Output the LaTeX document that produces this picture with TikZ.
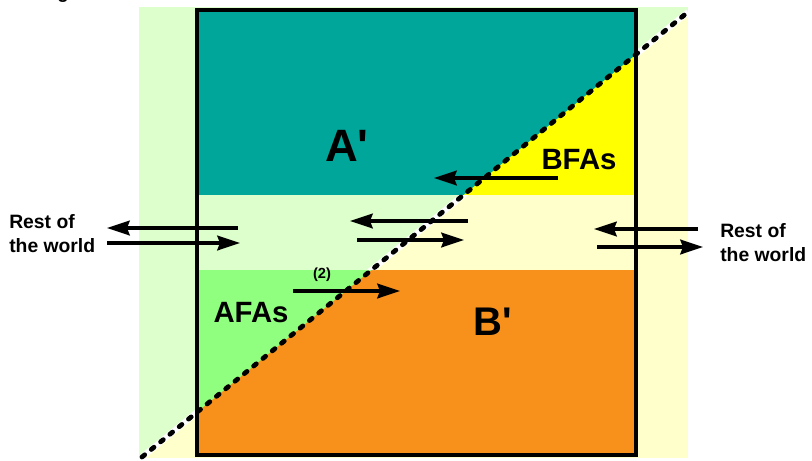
\documentclass[tikz,border=0pt]{standalone}
\usepackage{fontspec}
\setmainfont{Liberation Sans}
\usetikzlibrary{arrows.meta}
\definecolor{tealA}{RGB}{0,166,153}
\definecolor{orangeB}{RGB}{248,145,28}
\definecolor{yellowB}{RGB}{255,255,0}
\definecolor{greenA}{RGB}{144,255,128}
\definecolor{paleGreen}{RGB}{221,255,204}
\definecolor{paleYellow}{RGB}{255,255,204}

\tikzset{
  flow/.style={line width=2.6pt, -{Stealth[length=17pt,width=11pt,inset=2pt]}},
  bigname/.style={inner sep=0pt, font=\bfseries\fontsize{34}{34}\selectfont},
  faname/.style={inner sep=0pt, font=\bfseries\fontsize{22}{22}\selectfont},
  world/.style={inner sep=0pt, align=left, font=\bfseries\fontsize{14.5}{18}\selectfont},
  upperleft/.style={insert path={(100,491.2) -- (750,-38.5) -- (100,-38.5) -- cycle}},
}

\begin{document}
\begin{tikzpicture}[x=0.75pt, y=-0.75pt]
        \useasboundingbox (0,0) rectangle (812,460);
        \coordinate (diagA) at (142,457);
        \coordinate (diagB) at (688,12);

        % Outer bands
        \fill[paleYellow] (139,7) rectangle (688,458);
        \begin{scope}
          \clip[upperleft];
          \fill[paleGreen] (139,7) rectangle (688,458);
        \end{scope}

        % Strips inside the box
        \fill[yellowB] (197,10) rectangle (636,195);
        \fill[paleYellow] (197,195) rectangle (636,270);
        \fill[orangeB] (197,270) rectangle (636,454.5);
        \begin{scope}
          \clip[upperleft];
          \fill[tealA] (197,10) rectangle (636,195);
          \fill[paleGreen] (197,195) rectangle (636,270);
          \fill[greenA] (197,270) rectangle (636,454.5);
        \end{scope}

        % White gap along the border line
        \begin{scope}
          \clip (139,7) rectangle (197,458) (636,7) rectangle (688,458) (197,195) rectangle (636,270);
          \draw[white, line width=4.5pt] (diagA) -- (diagB);
        \end{scope}

        % Box and border line
        \draw[line width=3pt] (197,10) rectangle (636,454.5);
        \draw[line width=3.6pt, line cap=round, dash pattern=on 2.6pt off 6.4pt] (diagA) -- (diagB);

        % Labels
        \node[inner sep=0pt, anchor=base, font=\bfseries\fontsize{14}{14}\selectfont] (capg) at (63,-1) {g};
        \node[bigname] (Ap) at (347,146) {A\textquotesingle};
        \node[bigname, font=\bfseries\fontsize{30}{30}\selectfont] (Bp) at (493,322) {B\textquotesingle};
        \node[faname] (bfas) at (579,160) {BFAs};
        \node[faname] (afas) at (251,313) {AFAs};
        \node[inner sep=0pt, font=\bfseries\fontsize{11}{11}\selectfont] (two) at (322,275) {(2)};
        \node[world, anchor=west] (restL) at (9,234) {Rest of\\the world};
        \node[world, anchor=west] (restR) at (720,243) {Rest of\\the world};

        % Flows
        \coordinate (lOutS) at (238,228);  \coordinate (lOutE) at (107,228);
        \coordinate (lInS) at (107,243);   \coordinate (lInE) at (240,243);
        \coordinate (mOutS) at (468,221);  \coordinate (mOutE) at (350,221);
        \coordinate (mInS) at (357,240);   \coordinate (mInE) at (464,240);
        \coordinate (bS) at (558,178);     \coordinate (bE) at (434,178);
        \coordinate (aS) at (293,291);     \coordinate (aE) at (400,291);
        \coordinate (rOutS) at (698,229);  \coordinate (rOutE) at (594,229);
        \coordinate (rInS) at (597,247);   \coordinate (rInE) at (703,247);
        \foreach \s/\e in {lOutS/lOutE, lInS/lInE, mOutS/mOutE, mInS/mInE, bS/bE, aS/aE, rOutS/rOutE, rInS/rInE} {
          \draw[flow] (\s) -- (\e);
        }
      \end{tikzpicture}
\end{document}
